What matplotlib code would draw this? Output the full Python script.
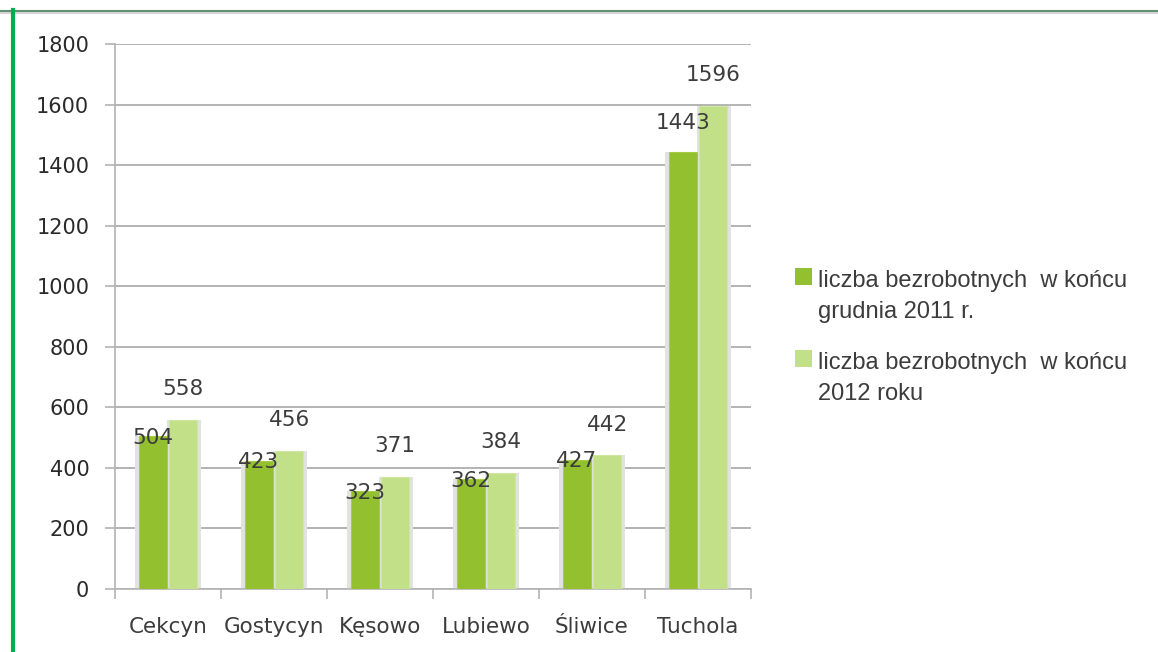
import matplotlib.pyplot as plt
import numpy as np
from matplotlib.lines import Line2D
from matplotlib.patches import Rectangle

W, H = 1158, 652
DPI = 100

gminy = ['Cekcyn', 'Gostycyn', 'Kęsowo', 'Lubiewo', 'Śliwice', 'Tuchola']
bezrobotni_2011 = [504, 423, 323, 362, 427, 1443]
bezrobotni_2012 = [558, 456, 371, 384, 442, 1596]
label_2011 = 'liczba bezrobotnych  w końcu\ngrudnia 2011 r.'
label_2012 = 'liczba bezrobotnych  w końcu\n2012 roku'
y_ticks = [0, 200, 400, 600, 800, 1000, 1200, 1400, 1600, 1800]

DARK = '#93C02E'
LIGHT = '#C2E088'
SHADOW = '#E2E2E2'
GRID = '#B3B3B3'
TEXT = '#3C3C3C'


def px(x, y):
    # pixel position -> figure fraction
    return x / W, 1 - y / H


def main():
    fig = plt.figure(figsize=(W / DPI, H / DPI), dpi=DPI)
    left, top = px(115, 44)
    right, bottom = px(751, 589)
    ax = fig.add_axes([left, bottom, right - left, top - bottom])

    x = np.arange(len(gminy))
    bw = 0.265
    gap = 0.01
    x_dark = x - bw / 2 - gap
    x_light = x + bw / 2 + gap

    # soft shadow behind the bars
    ax.bar(x_dark - 0.01, bezrobotni_2011, width=bw + 0.05, color=SHADOW, zorder=2)
    ax.bar(x_light + 0.01, bezrobotni_2012, width=bw + 0.05, color=SHADOW, zorder=2)
    ax.bar(x_dark, bezrobotni_2011, width=bw, color=DARK, edgecolor='#A6CC4A',
           linewidth=0.8, zorder=3)
    ax.bar(x_light, bezrobotni_2012, width=bw, color=LIGHT, edgecolor='#CFE7A0',
           linewidth=0.8, zorder=3)

    for i, v in enumerate(bezrobotni_2011):
        dy = 21 if v > 1000 else -1
        ax.annotate(str(v), (x_dark[i], v), xytext=(0, dy), textcoords='offset points',
                    ha='center', va='center', fontsize=15.5, color=TEXT, zorder=5)
    for i, v in enumerate(bezrobotni_2012):
        ax.annotate(str(v), (x_light[i], v), xytext=(0, 22), textcoords='offset points',
                    ha='center', va='center', fontsize=15.5, color=TEXT, zorder=5)

    ax.set_xlim(-0.5, len(gminy) - 0.5)
    ax.set_ylim(0, 1800)
    ax.set_yticks(y_ticks)
    ax.set_yticklabels([str(t) for t in y_ticks], fontsize=15, color='#2A2A2A')
    ax.set_xticks(x)
    ax.set_xticklabels(gminy, fontsize=15.5, color=TEXT)
    ax.set_xticks(np.arange(len(gminy) + 1) - 0.5, minor=True)
    ax.tick_params(axis='x', which='major', length=0, pad=20)
    ax.tick_params(axis='x', which='minor', length=7, color=GRID, width=1.2)
    ax.tick_params(axis='y', length=7.5, color=GRID, width=1.2, pad=11)

    ax.grid(axis='y', color=GRID, linewidth=1.4, zorder=1)
    ax.set_axisbelow(True)
    for side in ['top', 'right']:
        ax.spines[side].set_visible(False)
    for side in ['left', 'bottom']:
        ax.spines[side].set_color(GRID)
        ax.spines[side].set_linewidth(1.2)

    # legend drawn by hand so the swatch sits on the first text line
    for (label, colour, y0) in [(label_2011, DARK, 268), (label_2012, LIGHT, 350)]:
        sx, sy = px(795, y0 + 17)
        fig.add_artist(Rectangle((sx, sy), 17 / W, 17 / H, transform=fig.transFigure,
                                 facecolor=colour, edgecolor='none'))
        tx, ty = px(818, y0 + 2)
        fig.text(tx, ty, label, ha='left', va='top', fontsize=17,
                 family='Liberation Sans', color=TEXT, linespacing=1.55)

    # page frame: green left rule and top border
    fig.add_artist(Line2D([0, 1], [1 - 11 / H] * 2, color='#5E8F72', linewidth=2.2))
    fig.add_artist(Line2D([0, 1], [1 - 13 / H] * 2, color='#D5D5D5', linewidth=1.5))
    fig.add_artist(Line2D([12.5 / W] * 2, [0, 1 - 10 / H], color='#00B050', linewidth=3))

    fig.savefig('out.png', dpi=DPI)
    plt.close(fig)


if __name__ == '__main__':
    main()
